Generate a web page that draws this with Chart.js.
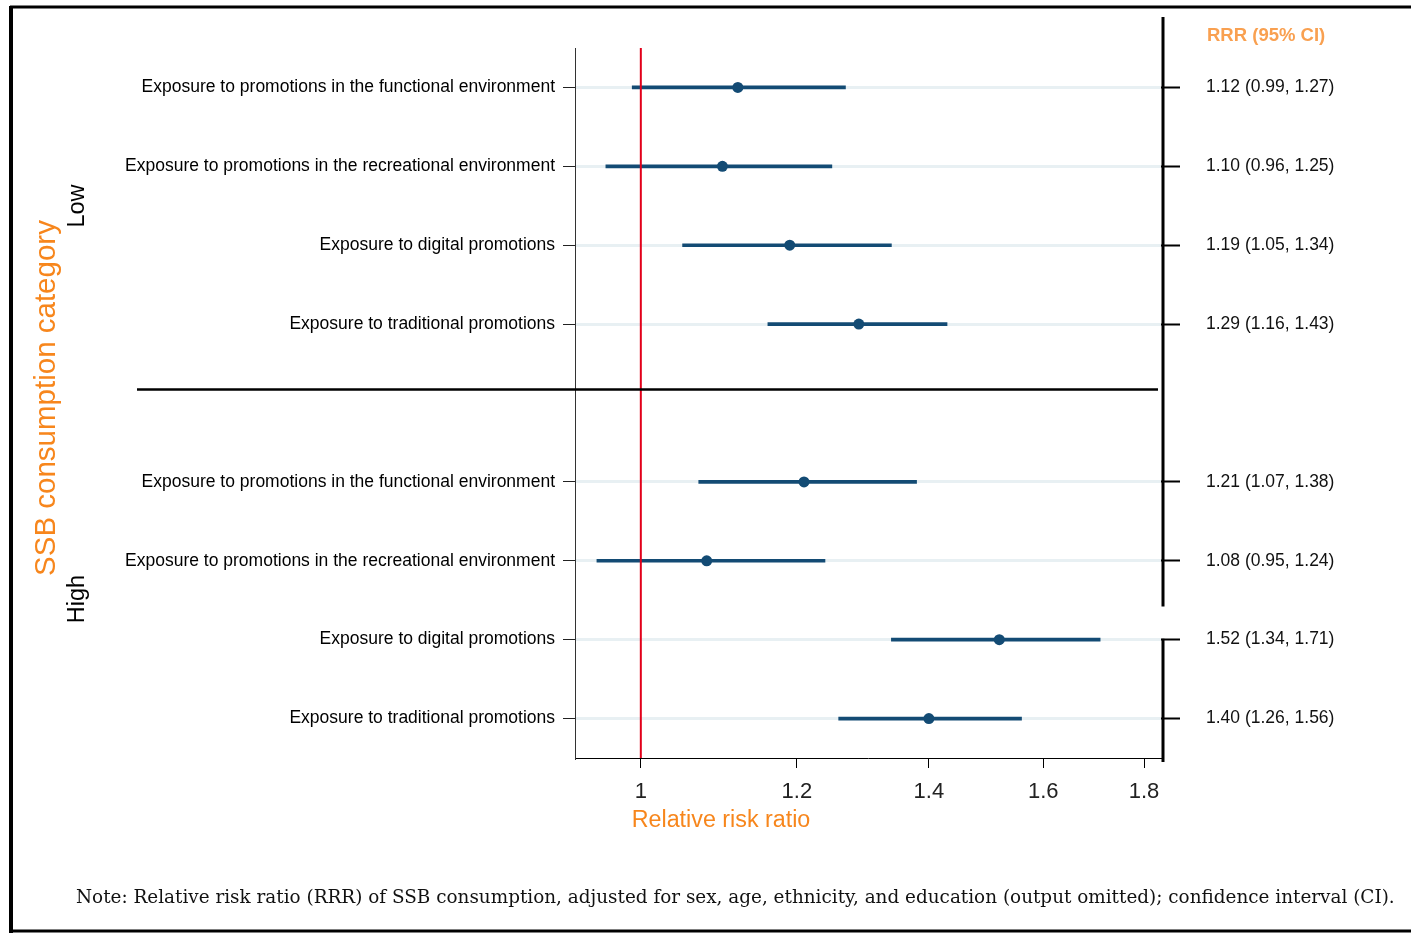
<!DOCTYPE html>
<html>
<head>
<meta charset="utf-8">
<script src="https://cdn.jsdelivr.net/npm/chart.js@4/dist/chart.umd.min.js"></script>
<style>
  html, body { margin: 0; padding: 0; background: #fff; }
  #chart { display: block; }
</style>
</head>
<body>
<canvas id="chart" width="1411" height="933"></canvas>
<script>
// exposure types, same order in both groups
const exposures = [
  "Exposure to promotions in the functional environment",
  "Exposure to promotions in the recreational environment",
  "Exposure to digital promotions",
  "Exposure to traditional promotions",
];

// low group first, then high group
const rrr = [1.12, 1.10, 1.19, 1.29, 1.21, 1.08, 1.52, 1.40];
const ciLower = [0.99, 0.96, 1.05, 1.16, 1.07, 0.95, 1.34, 1.26];
const ciUpper = [1.27, 1.25, 1.34, 1.43, 1.38, 1.24, 1.71, 1.56];

// x axis ticks
const xTicks = [1, 1.2, 1.4, 1.6, 1.8];

const blue = "#134b74";
const orange = "#f7861c";
const sans = "'Liberation Sans', Arial, sans-serif";

// build the 9 rows: 4 low, one empty gap, 4 high
const rowLabels = [...exposures, "", ...exposures];
const gapAt = 4;
function withGap(arr) {
  let out = arr.slice();
  out.splice(gapAt, 0, null);
  return out;
}
const rrrText = withGap(
  rrr.map((v, i) => `${v.toFixed(2)} (${ciLower[i].toFixed(2)}, ${ciUpper[i].toFixed(2)})`)
).map((t) => (t === null ? "" : t));
const ciBars = withGap(rrr.map((v, i) => [ciLower[i], ciUpper[i]]));
const points = withGap(rrr);

Chart.defaults.font.family = sans;
Chart.defaults.color = "#111";

// hides tick / grid on the empty gap row
const onRow = (color) => (c) => (c.tick && c.tick.label === "" ? "rgba(0,0,0,0)" : color);

// extra drawing: reference line, separator, right axis, titles, note, frame
const decor = {
  id: "decor",
  afterDatasetsDraw(chart) {
    const { ctx, chartArea } = chart;
    const x1 = chart.scales.x.getPixelForValue(1);
    ctx.save();
    ctx.strokeStyle = "#e2001a";
    ctx.lineWidth = 2;
    ctx.beginPath();
    ctx.moveTo(x1, chartArea.top);
    ctx.lineTo(x1, chartArea.bottom);
    ctx.stroke();
    ctx.restore();
  },
  afterDraw(chart) {
    const { ctx, chartArea } = chart;
    const y = chart.scales.y;
    ctx.save();

    // separator between the two groups
    const sepY = y.getPixelForValue(3.83);
    ctx.strokeStyle = "#000";
    ctx.lineWidth = 2.5;
    ctx.beginPath();
    ctx.moveTo(137, sepY);
    ctx.lineTo(chartArea.right - 3, sepY);
    ctx.stroke();

    // thick right axis line (broken like the original)
    const rx = chartArea.right + 2;
    ctx.lineWidth = 3;
    ctx.beginPath();
    ctx.moveTo(rx, 17);
    ctx.lineTo(rx, y.getPixelForValue(6.58));
    ctx.moveTo(rx, y.getPixelForValue(7) - 1);
    ctx.lineTo(rx, chartArea.bottom + 4);
    ctx.stroke();

    // header of the right column
    ctx.fillStyle = "#f9a050";
    ctx.font = `bold 18.5px ${sans}`;
    ctx.textAlign = "left";
    ctx.textBaseline = "middle";
    ctx.fillText("RRR (95% CI)", 1207, 36);

    // x title
    ctx.fillStyle = orange;
    ctx.font = `23.3px ${sans}`;
    ctx.textAlign = "center";
    ctx.fillText("Relative risk ratio", 721, 821);

    // y titles, rotated
    function vtext(text, x, yc, font, color) {
      ctx.save();
      ctx.translate(x, yc);
      ctx.rotate(-Math.PI / 2);
      ctx.font = font;
      ctx.fillStyle = color;
      ctx.textAlign = "center";
      ctx.textBaseline = "middle";
      ctx.fillText(text, 0, 0);
      ctx.restore();
    }
    vtext("SSB consumption category", 47, 398, `29.5px ${sans}`, orange);
    vtext("Low", 78, 206, `23.5px ${sans}`, "#000");
    vtext("High", 78, 599, `23.5px ${sans}`, "#000");

    // note, serif, fitted to the original width
    const note =
      "Note: Relative risk ratio (RRR) of SSB consumption, adjusted for sex, age, ethnicity, and education (output omitted); confidence interval (CI).";
    ctx.font = "20px 'DejaVu Serif', serif";
    let w = ctx.measureText(note).width;
    let size = Math.min(22, (20 * 1321) / w);
    ctx.font = `${size.toFixed(1)}px 'DejaVu Serif', serif`;
    ctx.fillStyle = "#111";
    ctx.textAlign = "left";
    ctx.fillText(note, 76, 898);

    // outer frame
    ctx.strokeStyle = "#000";
    ctx.lineWidth = 3;
    ctx.beginPath();
    ctx.moveTo(10, 7);
    ctx.lineTo(1411, 7);
    ctx.moveTo(1411, 931);
    ctx.lineTo(10, 931);
    ctx.stroke();
    ctx.lineWidth = 4;
    ctx.beginPath();
    ctx.moveTo(11, 6);
    ctx.lineTo(11, 933);
    ctx.stroke();

    ctx.restore();
  },
};

new Chart(document.getElementById("chart"), {
  type: "bar",
  data: {
    labels: rowLabels,
    datasets: [
      {
        type: "bar",
        data: ciBars,
        indexAxis: "y",
        xAxisID: "x",
        yAxisID: "y",
        backgroundColor: blue,
        borderWidth: 0,
        barThickness: 3,
        borderSkipped: false,
      },
      {
        type: "line",
        data: points,
        indexAxis: "y",
        xAxisID: "x",
        yAxisID: "y",
        showLine: false,
        pointRadius: 5.5,
        pointBackgroundColor: blue,
        pointBorderWidth: 0,
      },
    ],
  },
  options: {
    indexAxis: "y",
    responsive: false,
    animation: false,
    devicePixelRatio: 1,
    layout: { padding: { top: 48, left: 0, right: 0, bottom: 0 } },
    plugins: {
      legend: { display: false },
      tooltip: { enabled: false },
    },
    scales: {
      x: {
        type: "logarithmic",
        position: "bottom",
        min: 0.926,
        max: 1.836,
        afterBuildTicks: (scale) => {
          scale.ticks = xTicks.map((v) => ({ value: v }));
        },
        afterFit: (scale) => {
          scale.height = 175;
        },
        ticks: {
          callback: (v) => String(v),
          font: { size: 22 },
          color: "#222",
          padding: 11,
          maxRotation: 0,
          autoSkip: false,
        },
        grid: {
          drawOnChartArea: false,
          tickLength: 10,
          tickColor: "#000",
          tickWidth: 1,
        },
        border: { color: "#000", width: 1 },
      },
      y: {
        type: "category",
        position: "left",
        offset: true,
        afterFit: (scale) => {
          scale.width = 575;
        },
        ticks: {
          font: { size: 17.5 },
          color: "#000",
          padding: 8,
          autoSkip: false,
        },
        grid: {
          offset: false,
          color: onRow("#e8f0f3"),
          lineWidth: 3,
          tickColor: onRow("#222"),
          tickWidth: 1,
          tickLength: 12,
        },
        border: { color: "#333", width: 1 },
      },
      y2: {
        type: "category",
        position: "right",
        labels: rrrText,
        offset: true,
        afterFit: (scale) => {
          scale.width = 250;
        },
        ticks: {
          font: { size: 17.5 },
          color: "#111",
          padding: 26,
          autoSkip: false,
        },
        grid: {
          offset: false,
          drawOnChartArea: false,
          tickColor: onRow("#000"),
          tickWidth: 2,
          tickLength: 19,
        },
        border: { display: false },
      },
    },
  },
  plugins: [decor],
});
</script>
</body>
</html>
